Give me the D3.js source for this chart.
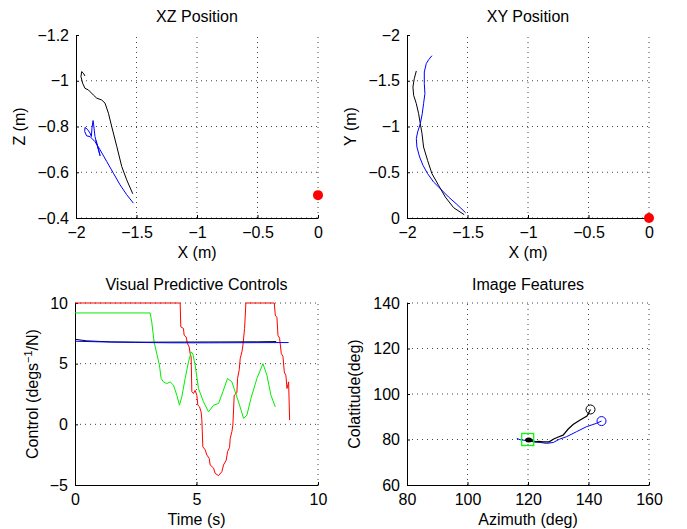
<!DOCTYPE html>
<html>
<head>
<meta charset="utf-8">
<script src="https://cdn.jsdelivr.net/npm/d3@7"></script>
<style>
  body { margin: 0; background: #fff; }
  svg { font-family: "Liberation Sans", Arial, sans-serif; }
  .grid line { stroke: #444; stroke-dasharray: 1,4; stroke-width: 1; }
</style>
</head>
<body>
<div id="chart"></div>
<script>
// XZ position (x, z) in metres
var xzBlack = [[-1.531,-0.506],[-1.581,-0.567],[-1.622,-0.625],[-1.663,-0.713],[-1.705,-0.800],[-1.732,-0.858],[-1.760,-0.902],[-1.788,-0.916],[-1.829,-0.924],[-1.857,-0.938],[-1.898,-0.960],[-1.926,-0.967],[-1.945,-0.989],[-1.959,-1.018],[-1.953,-1.040],[-1.939,-1.033],[-1.926,-1.021]];
var xzBlue = [[-1.526,-0.465],[-1.581,-0.502],[-1.636,-0.545],[-1.691,-0.596],[-1.746,-0.647],[-1.801,-0.698],[-1.843,-0.734],[-1.884,-0.756],[-1.912,-0.759],[-1.928,-0.778],[-1.926,-0.796],[-1.906,-0.788],[-1.884,-0.771],[-1.873,-0.756],[-1.868,-0.793],[-1.859,-0.826],[-1.854,-0.807],[-1.843,-0.756],[-1.823,-0.713],[-1.801,-0.672],[-1.812,-0.698],[-1.835,-0.740]];
// XY position (x, y) in metres
var xyBlack = [[-1.527,-0.036],[-1.615,-0.113],[-1.684,-0.230],[-1.739,-0.357],[-1.794,-0.485],[-1.830,-0.630],[-1.863,-0.776],[-1.876,-0.922],[-1.890,-1.031],[-1.904,-1.140],[-1.923,-1.250],[-1.945,-1.341],[-1.951,-1.432],[-1.940,-1.523],[-1.923,-1.607]];
var xyBlue = [[-1.516,-0.058],[-1.588,-0.149],[-1.657,-0.230],[-1.725,-0.321],[-1.780,-0.393],[-1.830,-0.485],[-1.868,-0.576],[-1.896,-0.667],[-1.918,-0.776],[-1.923,-0.867],[-1.912,-0.940],[-1.890,-1.031],[-1.874,-1.140],[-1.863,-1.250],[-1.852,-1.359],[-1.857,-1.468],[-1.857,-1.596],[-1.841,-1.687],[-1.821,-1.730],[-1.794,-1.774]];
var target = [0, -0.5];
var targetXY = [0, 0];
// controls (t, value)
var ctrlRed = [[0,10],[4.327,10],[4.354,8.03],[4.464,7.9],[4.492,7.34],[4.574,7.2],[4.629,6.65],[4.698,6.38],[4.739,5.83],[4.780,5.56],[4.808,2.7],[4.876,2.54],[4.945,2.8],[5.014,2.4],[5.055,1.58],[5.124,1.45],[5.192,1.0],[5.220,0.35],[5.261,-1.85],[5.357,-2.1],[5.426,-2.53],[5.522,-2.8],[5.563,-3.35],[5.701,-3.6],[5.769,-4.04],[5.907,-4.23],[6.044,-3.9],[6.113,-3.35],[6.223,-2.95],[6.277,-2.26],[6.360,-1.9],[6.387,-1.16],[6.456,-0.6],[6.497,-0.06],[6.552,2.4],[6.662,2.6],[6.690,3.78],[6.758,4.5],[6.799,5.42],[6.868,5.97],[6.909,6.5],[6.978,7.9],[7.033,10],[8.201,10],[8.242,9.0],[8.310,8.8],[8.352,7.34],[8.420,7.1],[8.489,5.83],[8.558,5.6],[8.613,4.32],[8.681,4.0],[8.723,2.95],[8.791,3.5],[8.832,0.35]];
var ctrlGreen = [[0,9.18],[3.091,9.18],[3.159,8.44],[3.255,6.79],[3.365,5.83],[3.475,4.87],[3.544,3.78],[3.640,3.5],[3.777,3.36],[3.915,3.5],[4.052,3.23],[4.190,2.4],[4.299,1.58],[4.396,2.27],[4.533,3.78],[4.670,5.15],[4.780,5.97],[4.849,5.8],[4.945,4.87],[5.082,2.95],[5.288,1.86],[5.495,1.03],[5.701,1.58],[5.907,1.72],[6.085,2.68],[6.277,3.78],[6.456,3.5],[6.593,2.68],[6.772,1.58],[6.937,0.49],[7.074,0.76],[7.239,2.13],[7.486,3.78],[7.734,5.0],[7.898,4.05],[8.063,2.4],[8.242,1.44]];
var ctrlBlack = [[0,7.01],[0.48,6.88],[1.5,6.79],[3,6.77],[4.5,6.78],[6,6.79],[7.5,6.8],[8.28,6.82]];
var ctrlBlue = [[0,6.85],[1,6.8],[2.5,6.75],[4,6.72],[5.5,6.72],[7,6.73],[8.79,6.74]];
// image features (azimuth, colatitude) in degrees
var featBlack = [[119.0,79.9],[121.5,79.4],[120.2,80.1],[122.5,79.0],[123.5,79.2],[125.0,79.0],[127.0,79.0],[128.5,80.2],[130.0,81.1],[131.6,81.9],[133.3,84.6],[134.9,86.6],[137.1,88.5],[139.5,90.3],[140.66,93.2]];
var featBlue = [[144.3,88.1],[142.6,87.1],[139.3,85.6],[136.0,83.4],[132.7,81.2],[130.5,80.2],[128.4,78.7],[126.2,78.3],[124.0,78.7],[121.8,79.0],[119.6,79.5],[117.4,79.9],[116.3,80.5]];
var featStartBlack = [140.66, 93.2];
var featStartBlue = [144.3, 88.1];
var featGoal = [119.9, 80.0];

var xzTicksX = [-2, -1.5, -1, -0.5, 0];
var xzTicksZ = [-1.2, -1, -0.8, -0.6, -0.4];
var xyTicksY = [-2, -1.5, -1, -0.5, 0];
var ctrlTicksX = [0, 5, 10];
var ctrlTicksY = [-5, 0, 5, 10];
var featTicksX = [80, 100, 120, 140, 160];
var featTicksY = [60, 80, 100, 120, 140];

var FS = 16;

var svg = d3.select("#chart").append("svg")
    .attr("width", 687).attr("height", 529);

function fmt(d) { return String(d).replace("-", "\u2212"); }

function panel(o) {
  var x = d3.scaleLinear().domain(o.xd).range([o.left, o.right]);
  var y = d3.scaleLinear().domain(o.yd).range([o.bottom, o.top]);
  var g = svg.append("g");
  // dotted grid
  var grid = g.append("g").attr("class", "grid");
  grid.selectAll(".gx").data(o.xt.filter(function(d, i) { return i > 0; })).enter().append("line")
    .attr("x1", function(d) { return x(d); }).attr("x2", function(d) { return x(d); })
    .attr("y1", o.bottom).attr("y2", o.top);
  grid.selectAll(".gy").data(o.yt.filter(function(d, i) { return i > 0; })).enter().append("line")
    .attr("y1", function(d) { return y(d); }).attr("y2", function(d) { return y(d); })
    .attr("x1", o.left).attr("x2", o.right);
  // axes
  var ax = g.append("g").attr("transform", "translate(0," + o.bottom + ")")
    .call(d3.axisBottom(x).tickValues(o.xt).tickSize(-3).tickPadding(9).tickFormat(fmt).tickSizeOuter(0));
  var ay = g.append("g").attr("transform", "translate(" + o.left + ",0)")
    .call(d3.axisLeft(y).tickValues(o.yt).tickSize(-3).tickPadding(7).tickFormat(fmt).tickSizeOuter(0));
  [ax, ay].forEach(function(a) {
    a.selectAll("text").attr("font-size", FS).attr("fill", "#000");
    a.selectAll("line").attr("stroke", "#000");
    a.select(".domain").attr("stroke", "#000");
  });
  g.append("text").attr("x", (o.left + o.right) / 2).attr("y", o.top - 13)
    .attr("text-anchor", "middle").attr("font-size", FS).text(o.title);
  g.append("text").attr("x", (o.left + o.right) / 2).attr("y", o.bottom + 40)
    .attr("text-anchor", "middle").attr("font-size", FS).text(o.xl);
  var yl = g.append("text")
    .attr("transform", "translate(" + o.ylx + "," + (o.top + o.bottom) / 2 + ") rotate(-90)")
    .attr("text-anchor", "middle").attr("font-size", FS);
  if (o.ylsup) {
    yl.append("tspan").text(o.yl[0]);
    yl.append("tspan").attr("dy", -6).attr("font-size", 11).text(o.ylsup);
    yl.append("tspan").attr("dy", 6).text(o.yl[1]);
  } else {
    yl.text(o.yl);
  }
  var line = d3.line().x(function(d) { return x(d[0]); }).y(function(d) { return y(d[1]); });
  o.series.forEach(function(s) {
    g.append("path").datum(s.data).attr("d", line)
      .attr("fill", "none").attr("stroke", s.color).attr("stroke-width", s.w || 1);
  });
  return { g: g, x: x, y: y };
}

var p1 = panel({ left: 76, right: 318, top: 35, bottom: 218, xd: [-2, 0], yd: [-0.4, -1.2],
  xt: xzTicksX, yt: xzTicksZ, title: "XZ Position", xl: "X (m)", yl: "Z (m)", ylx: 25,
  series: [{ data: xzBlack, color: "#000" }, { data: xzBlue, color: "#0000ff" }] });
p1.g.append("circle").attr("cx", p1.x(target[0])).attr("cy", p1.y(target[1])).attr("r", 5).attr("fill", "#ff0000");

var p2 = panel({ left: 407, right: 649, top: 35, bottom: 218, xd: [-2, 0], yd: [0, -2],
  xt: xzTicksX, yt: xyTicksY, title: "XY Position", xl: "X (m)", yl: "Y (m)", ylx: 356,
  series: [{ data: xyBlack, color: "#000" }, { data: xyBlue, color: "#0000ff" }] });
p2.g.append("circle").attr("cx", p2.x(targetXY[0])).attr("cy", p2.y(targetXY[1])).attr("r", 5).attr("fill", "#ff0000");

panel({ left: 75, right: 318, top: 303, bottom: 485, xd: [0, 10], yd: [-5, 10],
  xt: ctrlTicksX, yt: ctrlTicksY, title: "Visual Predictive Controls", xl: "Time (s)",
  yl: ["Control (degs", "/N)"], ylsup: "\u22121", ylx: 38,
  series: [{ data: ctrlRed, color: "#ff0000" }, { data: ctrlGreen, color: "#00ee00" },
           { data: ctrlBlack, color: "#000" }, { data: ctrlBlue, color: "#0000ff" }] });

var p4 = panel({ left: 407, right: 649, top: 303, bottom: 485, xd: [80, 160], yd: [60, 140],
  xt: featTicksX, yt: featTicksY, title: "Image Features", xl: "Azimuth (deg)", yl: "Colatitude(deg)", ylx: 360,
  series: [{ data: featBlue, color: "#0000ff" }, { data: featBlack, color: "#000", w: 1.2 }] });
p4.g.append("circle").attr("cx", p4.x(featStartBlack[0])).attr("cy", p4.y(featStartBlack[1])).attr("r", 4.5)
  .attr("fill", "none").attr("stroke", "#000");
p4.g.append("circle").attr("cx", p4.x(featStartBlue[0])).attr("cy", p4.y(featStartBlue[1])).attr("r", 4.5)
  .attr("fill", "none").attr("stroke", "#0000ff");
p4.g.append("ellipse").attr("cx", p4.x(featGoal[0]) + 1).attr("cy", p4.y(featGoal[1]) + 0.5).attr("rx", 3.5).attr("ry", 2.5).attr("fill", "#000");
p4.g.append("rect").attr("x", p4.x(featGoal[0]) - 6).attr("y", p4.y(featGoal[1]) - 6)
  .attr("width", 12).attr("height", 12).attr("fill", "none").attr("stroke", "#00ff00").attr("stroke-width", 1.3);
</script>
</body>
</html>
